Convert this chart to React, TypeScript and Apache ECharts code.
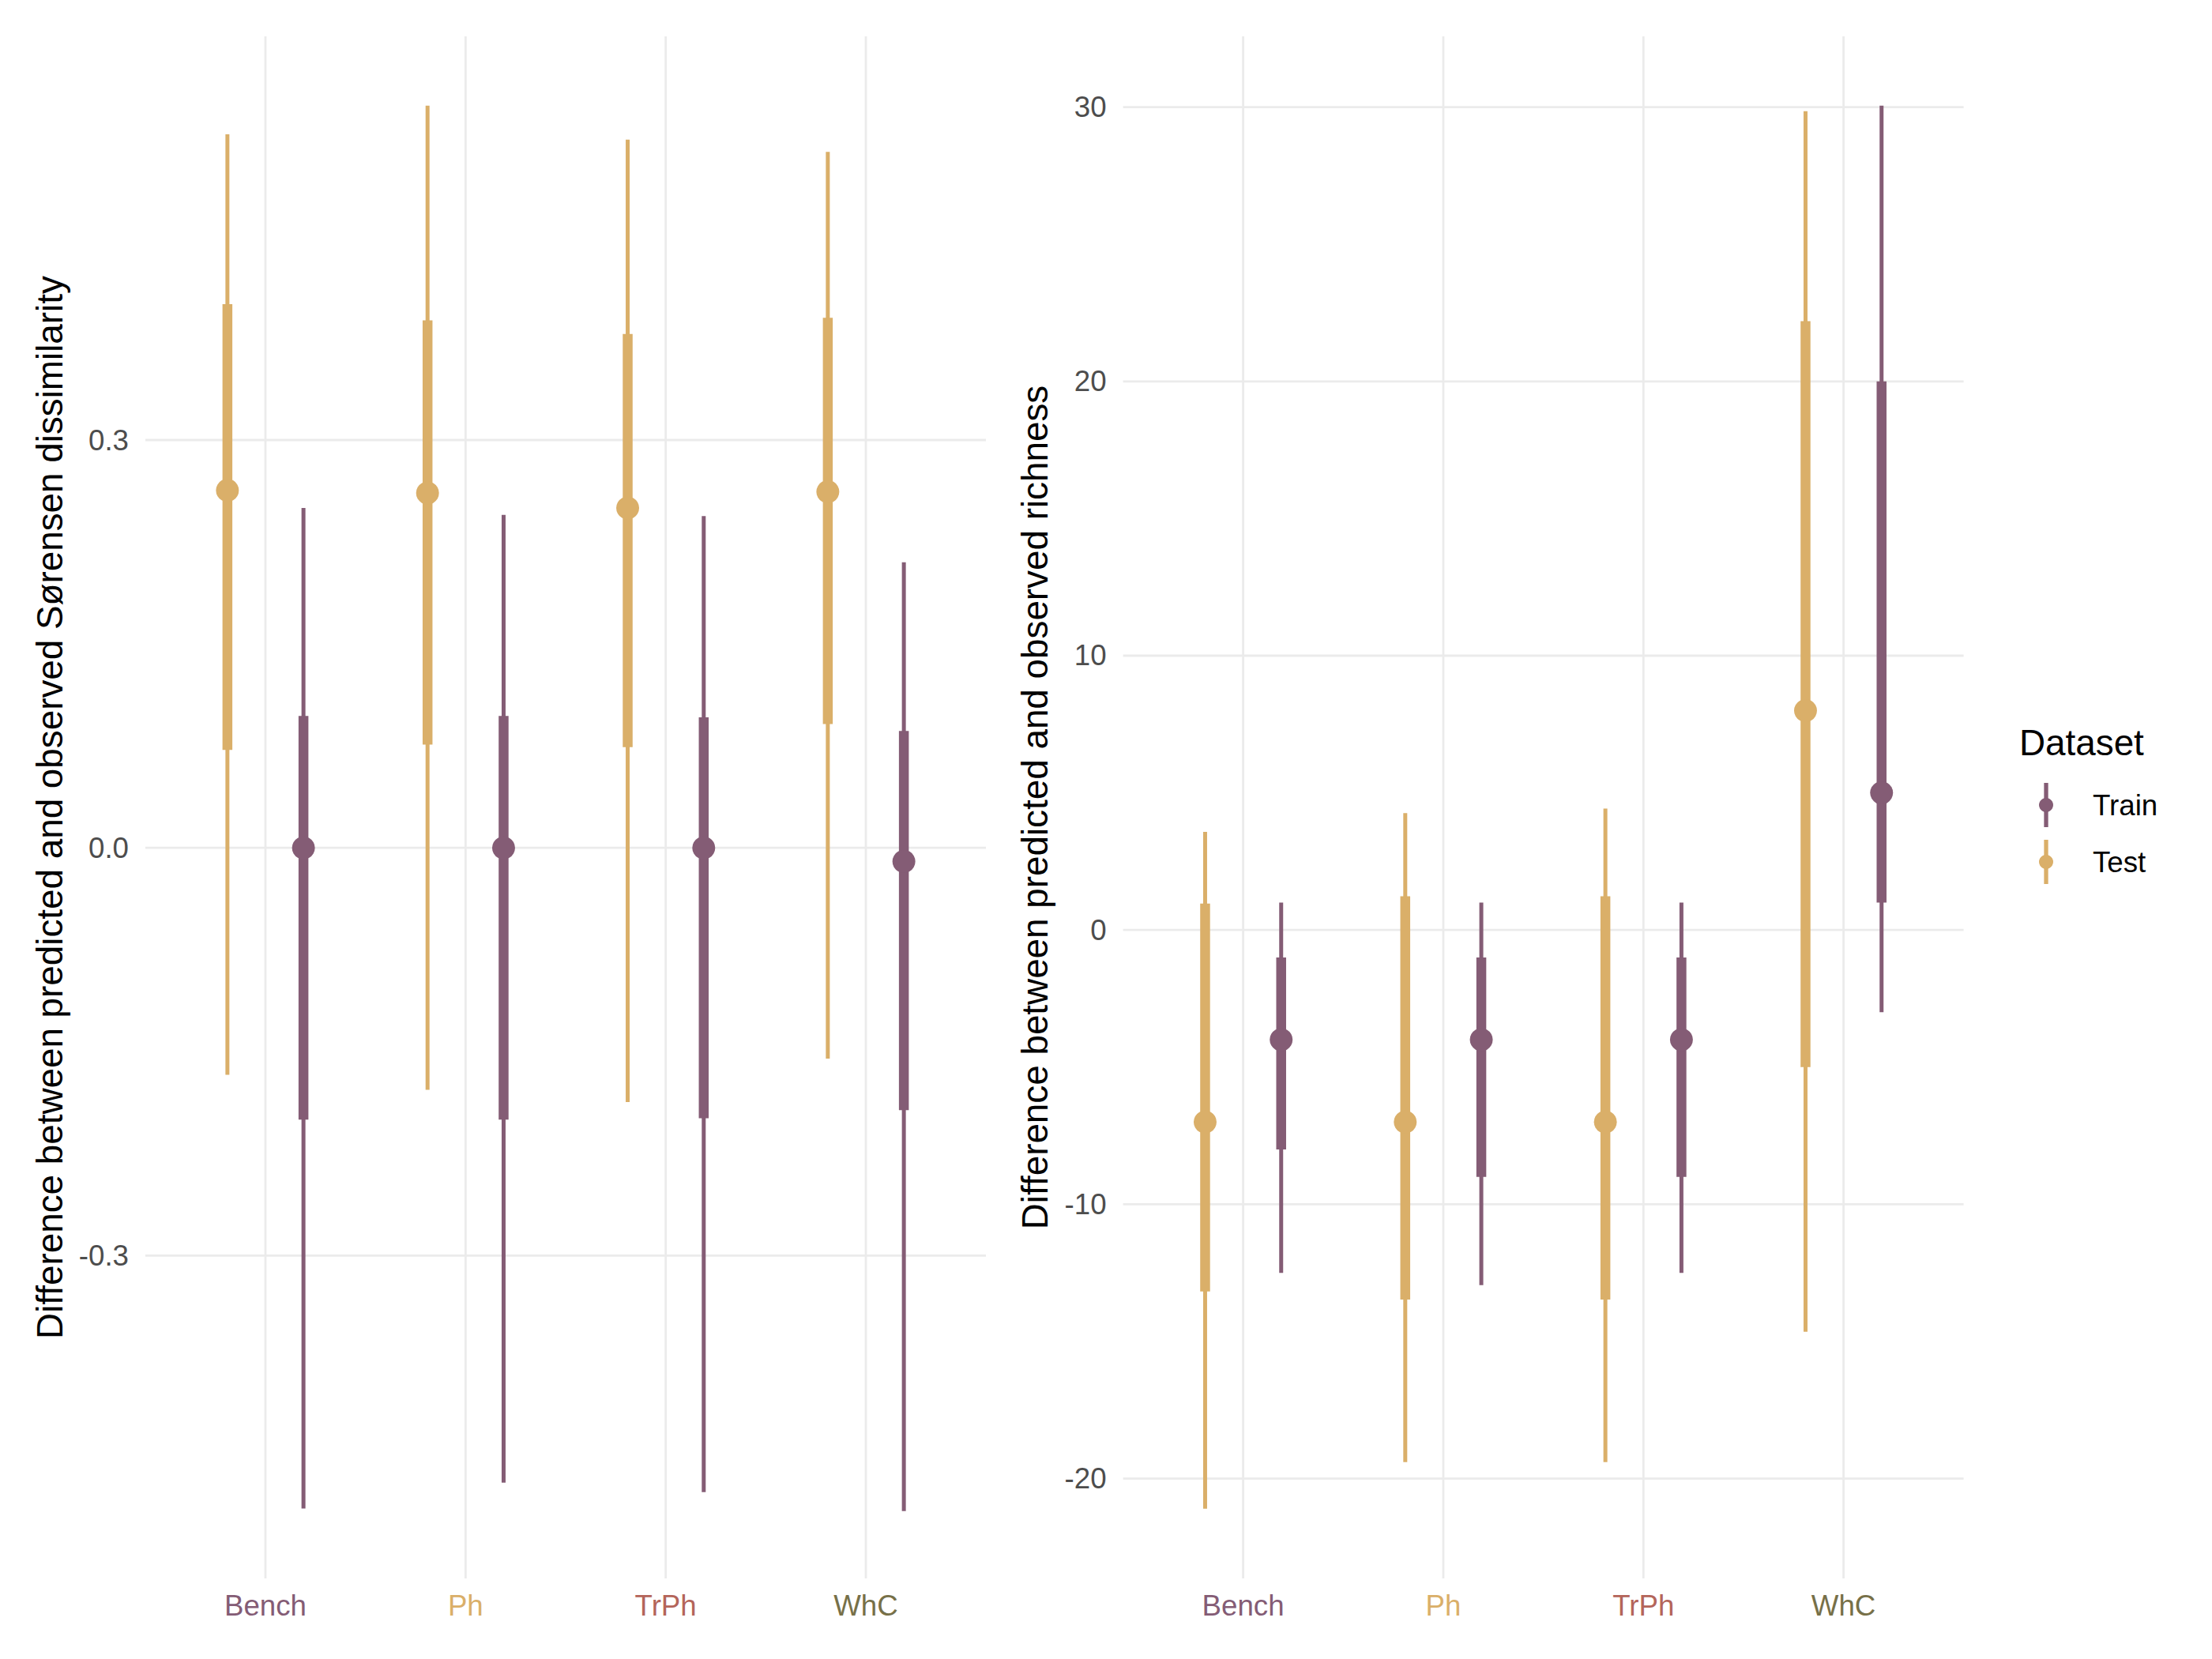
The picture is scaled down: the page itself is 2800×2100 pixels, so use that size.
import React, { useEffect, useRef } from 'react';
import * as echarts from 'echarts';

// ---------- data ----------
const categories = ['Bench', 'Ph', 'TrPh', 'WhC'];
const categoryColors = ['#845C75', '#DAAF69', '#B4655A', '#777048'];
const datasetNames = ['Train', 'Test'];
const trainColor = '#845C75';
const testColor = '#DAAF69';

// Sørensen dissimilarity panel
const sorTestPoint = [0.263, 0.261, 0.25, 0.262];
const sorTestLow95 = [-0.167, -0.178, -0.187, -0.155];
const sorTestHigh95 = [0.525, 0.546, 0.521, 0.512];
const sorTestLow50 = [0.072, 0.076, 0.074, 0.091];
const sorTestHigh50 = [0.4, 0.388, 0.378, 0.39];
const sorTrainPoint = [0, 0, 0, -0.01];
const sorTrainLow95 = [-0.486, -0.467, -0.474, -0.488];
const sorTrainHigh95 = [0.25, 0.245, 0.244, 0.21];
const sorTrainLow50 = [-0.2, -0.2, -0.199, -0.193];
const sorTrainHigh50 = [0.097, 0.097, 0.096, 0.086];
const sorTicks = [-0.3, 0, 0.3];

// Richness panel
const richTestPoint = [-7, -7, -7, 8];
const richTestLow95 = [-21.1, -19.4, -19.4, -14.65];
const richTestHigh95 = [3.58, 4.26, 4.43, 29.85];
const richTestLow50 = [-13.18, -13.47, -13.47, -5];
const richTestHigh50 = [0.96, 1.23, 1.23, 22.2];
const richTrainPoint = [-4, -4, -4, 5];
const richTrainLow95 = [-12.5, -12.95, -12.5, -3];
const richTrainHigh95 = [1, 1, 1, 30.05];
const richTrainLow50 = [-8, -9, -9, 1];
const richTrainHigh50 = [-1, -1, -1, 20];
const richTicks = [-20, -10, 0, 10, 20, 30];

const dodge = 0.19;
const FONT = 'Liberation Sans, Arial, Helvetica, sans-serif';

function rows(p: number[], lo95: number[], hi95: number[], lo50: number[], hi50: number[], off: number) {
  return categories.map((_, i) => [i + 1 + off, p[i], lo95[i], hi95[i], lo50[i], hi50[i]]);
}

function makeRender(color: string) {
  return (params: any, api: any) => {
    const x = api.value(0);
    const pt = api.coord([x, api.value(1)]);
    const a = api.coord([x, api.value(2)]);
    const b = api.coord([x, api.value(3)]);
    const c = api.coord([x, api.value(4)]);
    const d = api.coord([x, api.value(5)]);
    return {
      type: 'group',
      children: [
        { type: 'line', shape: { x1: a[0], y1: a[1], x2: b[0], y2: b[1] }, style: { stroke: color, lineWidth: 5, lineCap: 'butt' } },
        { type: 'line', shape: { x1: c[0], y1: c[1], x2: d[0], y2: d[1] }, style: { stroke: color, lineWidth: 12.5, lineCap: 'butt' } },
        { type: 'circle', shape: { cx: pt[0], cy: pt[1], r: 14.5 }, style: { fill: color } },
      ],
    };
  };
}

const gridColor = '#EBEBEB';
function vGridRender(params: any, api: any) {
  const cs = params.coordSys;
  const x = api.coord([api.value(0), api.value(1)])[0];
  return { type: 'line', shape: { x1: x, y1: cs.y, x2: x, y2: cs.y + cs.height }, style: { stroke: gridColor, lineWidth: 2.8 } };
}
function hGridRender(params: any, api: any) {
  const cs = params.coordSys;
  const y = api.coord([api.value(0), api.value(1)])[1];
  return { type: 'line', shape: { x1: cs.x, y1: y, x2: cs.x + cs.width, y2: y }, style: { stroke: gridColor, lineWidth: 2.8 } };
}

function xAxisFor(gridIndex: number) {
  const rich: any = {};
  categories.forEach((_, i) => {
    rich['c' + i] = { color: categoryColors[i], fontSize: 36.7, fontFamily: FONT };
  });
  return {
    type: 'value',
    gridIndex,
    min: 0.4,
    max: 4.6,
    axisLine: { show: false },
    axisTick: { show: false },
    splitLine: { show: false },
    axisLabel: {
      customValues: categories.map((_, i) => i + 1),
      formatter: (v: number) => {
        const i = Math.round(v) - 1;
        return `{c${i}|${categories[i]}}`;
      },
      rich,
      margin: 16,
    },
  };
}

function yAxisFor(gridIndex: number, min: number, max: number, ticks: number[], fmt: (v: number) => string, name: string, gap: number) {
  return {
    type: 'value',
    gridIndex,
    min,
    max,
    axisLine: { show: false },
    axisTick: { show: false },
    splitLine: { show: false },
    axisLabel: {
      customValues: ticks,
      formatter: fmt,
      color: '#4D4D4D',
      fontSize: 36.7,
      fontFamily: FONT,
      margin: 21,
    },
    name,
    nameLocation: 'middle',
    nameRotate: 90,
    nameGap: gap,
    nameTextStyle: { fontSize: 45.8, color: '#000000', fontFamily: FONT },
  };
}

function gridSeries(idx: number, ticks: number[]) {
  return [
    {
      type: 'custom',
      xAxisIndex: idx,
      yAxisIndex: idx,
      z: 1,
      silent: true,
      renderItem: vGridRender,
      encode: { x: 0, y: 1 },
      data: categories.map((_, i) => [i + 1, ticks[0]]),
    },
    {
      type: 'custom',
      xAxisIndex: idx,
      yAxisIndex: idx,
      z: 1,
      silent: true,
      renderItem: hGridRender,
      encode: { x: 0, y: 1 },
      data: ticks.map((t) => [1, t]),
    },
  ];
}

function dataSeries(idx: number, name: string, color: string, data: number[][]) {
  return {
    type: 'custom',
    name,
    xAxisIndex: idx,
    yAxisIndex: idx,
    z: 3,
    renderItem: makeRender(color),
    encode: { x: 0, y: [1, 2, 3, 4, 5] },
    data,
  };
}

export default function App() {
  const ref = useRef<HTMLDivElement>(null);
  useEffect(() => {
    document.body.style.margin = '0';
    const chart = echarts.init(ref.current!, null, { renderer: 'svg' });
    const legendX = 2590;
    const legendItems = [
      { name: datasetNames[0], color: trainColor, y: 1019 },
      { name: datasetNames[1], color: testColor, y: 1091 },
    ];
    const legendGraphics: any[] = [
      { type: 'text', left: 2556, top: 917, style: { text: 'Dataset', fontSize: 45.8, fontFamily: FONT, fill: '#000' } },
    ];
    legendItems.forEach((it) => {
      legendGraphics.push({ type: 'line', shape: { x1: legendX, y1: it.y - 28, x2: legendX, y2: it.y + 28 }, style: { stroke: it.color, lineWidth: 5.3 } });
      legendGraphics.push({ type: 'circle', shape: { cx: legendX, cy: it.y, r: 9 }, style: { fill: it.color } });
      legendGraphics.push({ type: 'text', x: 2649, y: it.y, style: { text: it.name, fontSize: 36.7, fontFamily: FONT, fill: '#000', verticalAlign: 'middle', align: 'left' } });
    });

    chart.setOption({
      animation: false,
      backgroundColor: '#FFFFFF',
      textStyle: { fontFamily: FONT },
      grid: [
        { left: 184, top: 46, width: 1064, height: 1952 },
        { left: 1421.6, top: 46, width: 1064, height: 1952 },
      ],
      xAxis: [xAxisFor(0), xAxisFor(1)],
      yAxis: [
        yAxisFor(0, -0.5375, 0.597, sorTicks, (v: number) => v.toFixed(1), 'Difference between predicted and observed Sørensen dissimilarity', 98),
        yAxisFor(1, -23.64, 32.58, richTicks, (v: number) => String(Math.round(v)), 'Difference between predicted and observed richness', 88),
      ],
      graphic: legendGraphics,
      series: [
        ...gridSeries(0, sorTicks),
        ...gridSeries(1, richTicks),
        dataSeries(0, 'Test', testColor, rows(sorTestPoint, sorTestLow95, sorTestHigh95, sorTestLow50, sorTestHigh50, -dodge)),
        dataSeries(0, 'Train', trainColor, rows(sorTrainPoint, sorTrainLow95, sorTrainHigh95, sorTrainLow50, sorTrainHigh50, dodge)),
        dataSeries(1, 'Test', testColor, rows(richTestPoint, richTestLow95, richTestHigh95, richTestLow50, richTestHigh50, -dodge)),
        dataSeries(1, 'Train', trainColor, rows(richTrainPoint, richTrainLow95, richTrainHigh95, richTrainLow50, richTrainHigh50, dodge)),
      ],
    });
    return () => chart.dispose();
  }, []);
  return <div ref={ref} style={{ width: 2800, height: 2100 }} />;
}
